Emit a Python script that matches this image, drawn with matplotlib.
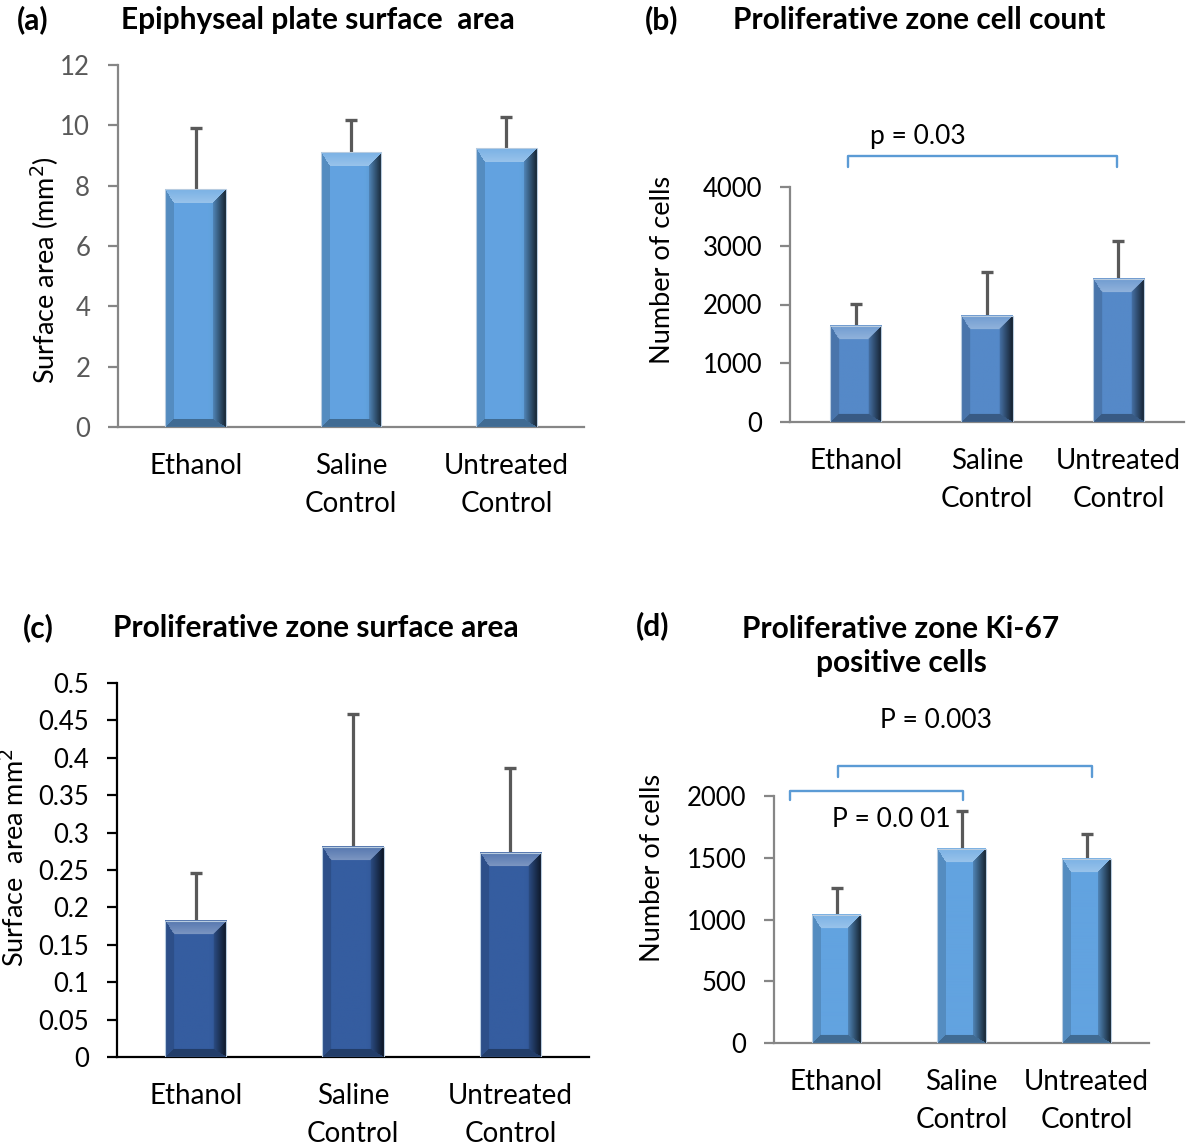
import numpy as np
import matplotlib
matplotlib.use("Agg")
import matplotlib.pyplot as plt
from matplotlib.ticker import FuncFormatter

W, H = 1193, 1143

groups = ["Ethanol", "Saline\nControl", "Untreated\nControl"]

# (a) epiphyseal plate surface area, mm^2
epi_area = [7.88, 9.10, 9.24]
epi_sd = [2.02, 1.08, 1.04]
# (b) proliferative zone cell count
pz_count = [1636, 1812, 2437]
pz_count_sd = [370, 740, 636]
# (c) proliferative zone surface area, mm^2
pz_area = [0.182, 0.281, 0.273]
pz_area_sd = [0.064, 0.178, 0.114]
# (d) Ki-67 positive cells
ki67 = [1037, 1571, 1490]
ki67_sd = [221, 307, 200]

LIGHT = "#62A3E0"
MID = "#5589C8"
DARK = "#355DA0"
ERR = "#595959"
GRAY_AX = "#868686"
BRACKET = "#5B9BD5"

plt.rcParams["font.family"] = ["Lato", "DejaVu Sans"]

fig = plt.figure(figsize=(W / 100, H / 100), dpi=100)
fig.patch.set_facecolor("white")


def fx(x):
    return x / W


def fy(y):
    return 1 - y / H


def axes_px(x0, y0, x1, y1):
    return fig.add_axes([fx(x0), fy(y1), (x1 - x0) / W, (y1 - y0) / H])


def bevel(w, h, rgb):
    # office-style bevelled bar face, built at screen resolution
    w, h = max(int(round(w)), 2), max(int(round(h)), 2)
    u = np.arange(w)[None, :] + 0.5
    v = np.arange(h)[:, None] + 0.5
    dl = np.broadcast_to(u / 9.0, (h, w))
    dr = np.broadcast_to((w - u) / 13.0, (h, w))
    dt = np.broadcast_to(v / 14.0, (h, w))
    db = np.broadcast_to((h - v) / 8.0, (h, w))
    stack = np.stack([dl, dr, dt, db])
    m = stack.min(axis=0)
    which = stack.argmin(axis=0)
    base = np.array(rgb)
    img = np.empty((h, w, 3))
    shade = 1 - 0.15 * np.clip((u / w - 0.72) / 0.28, 0, 1)
    img[:] = base[None, None, :] * np.broadcast_to(shade, (h, w))[..., None]
    edge = m < 1
    left = edge & (which == 0)
    right = edge & (which == 1)
    top = edge & (which == 2)
    bottom = edge & (which == 3)
    img[left] = base * 0.86
    f = (0.22 + 0.6 * dr)[right][:, None]
    img[right] = base[None, :] * f
    t = dt[top][:, None]
    img[top] = base * (1 - (0.15 + 0.2 * t)) + (0.15 + 0.2 * t) * 1.0
    img[bottom] = base * 0.66
    return np.clip(img, 0, 1)


def panel(rect, vals, sds, color, ymax, step, axis_col, lab_col):
    ax = axes_px(*rect)
    x = np.arange(len(vals))
    vals = np.asarray(vals, dtype=float)
    tops = vals + np.asarray(sds, dtype=float)
    bars = ax.bar(x, vals, width=0.39, color=color, zorder=2)
    ax.set_xlim(-0.5, 2.5)
    ax.set_ylim(0, ymax)
    ax.vlines(x, vals, tops, color=ERR, lw=2.3, zorder=1)
    ax.plot(x, tops, ls="none", marker="_", ms=8.5, mew=2.4, color=ERR, zorder=1)
    rgb = matplotlib.colors.to_rgb(color)
    for b in bars:
        x0, y0 = b.get_x(), b.get_y()
        x1, y1 = x0 + b.get_width(), y0 + b.get_height()
        (p0, q0), (p1, q1) = ax.transData.transform([(x0, y0), (x1, y1)])
        ax.imshow(bevel(p1 - p0, q1 - q0, rgb), extent=(x0, x1, y0, y1),
                  aspect="auto", interpolation="bilinear", zorder=3)
    ax.bar(x, vals, width=0.39, fill=False, edgecolor="#b8cce0", lw=0.8, zorder=4)
    ax.set_xlim(-0.5, 2.5)
    ax.set_ylim(0, ymax)
    ax.set_yticks(np.round(np.arange(0, ymax + step / 2, step), 4))
    ax.yaxis.set_major_formatter(FuncFormatter(lambda v, p: f"{v:g}"))
    ax.set_xticks(x)
    ax.set_xticklabels(groups, fontsize=20, linespacing=1.55)
    ax.tick_params(axis="x", length=0, pad=19, labelcolor="black")
    ax.tick_params(axis="y", direction="out", length=7, width=1.6,
                   color=axis_col, labelcolor=lab_col, labelsize=18.5, pad=13)
    for s in ("top", "right"):
        ax.spines[s].set_visible(False)
    for s in ("left", "bottom"):
        ax.spines[s].set_color(axis_col)
        ax.spines[s].set_linewidth(1.6)
    ax.set_facecolor("none")
    return ax


def bracket(ax, x0, x1, y, drop):
    ax.plot([x0, x0, x1, x1], [y - drop, y, y, y - drop], color=BRACKET,
            lw=1.7, clip_on=False, solid_joinstyle="round", solid_capstyle="round")


ax_a = panel((118, 65, 584, 427), epi_area, epi_sd, LIGHT, 12, 2, GRAY_AX, ERR)
ax_b = panel((790, 187, 1184, 422), pz_count, pz_count_sd, MID, 4000, 1000, GRAY_AX, "black")
ax_c = panel((117, 683, 589, 1057), pz_area, pz_area_sd, DARK, 0.5, 0.05, "black", "black")
ax_d = panel((774, 796, 1149, 1043), ki67, ki67_sd, LIGHT, 2000, 500, GRAY_AX, "black")

# significance brackets
bracket(ax_b, -0.06, 1.99, 4522, 180)
ax_b.text(0.475, 4858, "p = 0.03", ha="center", va="center", fontsize=19)
bracket(ax_d, 0.01, 2.04, 2242, 92)
bracket(ax_d, -0.37, 1.01, 2042, 75)
ax_d.text(0.44, 1813, "P = 0.0 01", ha="center", va="center", fontsize=19)
ax_d.text(0.80, 2614, "P = 0.003", ha="center", va="center", fontsize=19,
          clip_on=False)

# panel letters and titles
tb = dict(ha="center", va="center", fontsize=21.5, fontweight="bold")
fig.text(fx(33), fy(20), "(a)", **tb)
fig.text(fx(318), fy(20), "Epiphyseal plate surface  area", **tb)
fig.text(fx(662), fy(20), "(b)", **tb)
fig.text(fx(919), fy(20), "Proliferative zone cell count", **tb)
fig.text(fx(38), fy(628), "(c)", **tb)
fig.text(fx(316), fy(628), "Proliferative zone surface area", **tb)
fig.text(fx(653), fy(626), "(d)", **tb)
fig.text(fx(901), fy(646), "Proliferative zone Ki-67\npositive cells",
         linespacing=1.3, **tb)

# axis titles
yl = dict(ha="center", va="center", rotation=90, fontsize=19.5)
fig.text(fx(45), fy(270), "Surface area (mm$^2$)", **yl)
fig.text(fx(662), fy(270), "Number of cells", **yl)
fig.text(fx(15), fy(858), "Surface  area mm$^2$", **yl)
fig.text(fx(652), fy(868), "Number of cells", **yl)

fig.savefig("out.png", dpi=100, facecolor="white")
